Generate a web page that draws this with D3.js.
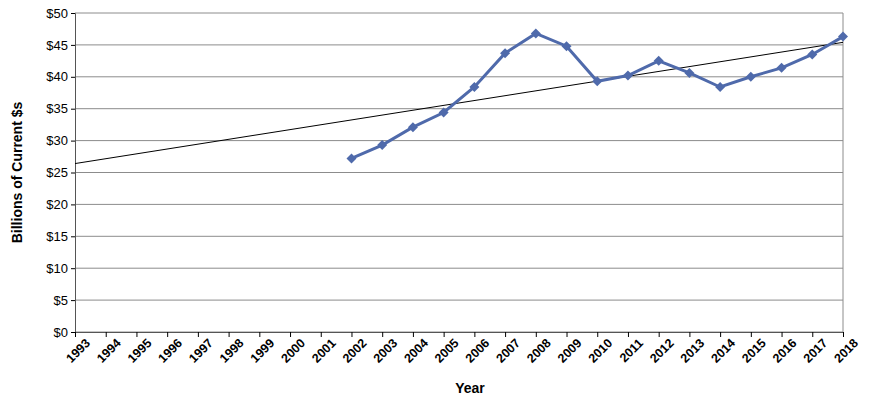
<!DOCTYPE html>
<html><head><meta charset="utf-8">
<script src="https://cdn.jsdelivr.net/npm/d3@7"></script>
<style>body{margin:0;background:#fff;font-family:"Liberation Sans",Arial,sans-serif}</style>
</head><body><svg id="c" width="870" height="414"></svg>
<script>
const years = d3.range(1993, 2019);
const seriesYears = [2002,2003,2004,2005,2006,2007,2008,2009,2010,2011,2012,2013,2014,2015,2016,2017,2018];
const seriesValues = [27.2,29.3,32.1,34.4,38.4,43.7,46.8,44.8,39.3,40.2,42.5,40.6,38.4,40.0,41.4,43.5,46.3];
const trendYears = [1993, 2018];
const trendValues = [26.4, 45.4];
const yTicks = [0,5,10,15,20,25,30,35,40,45,50];

const svg = d3.select("#c");
const m = {l:75, r:27, t:13, b:82};
const W = 870, H = 414;
const x = d3.scaleLinear().domain([1993, 2018]).range([m.l, W - m.r]);
const y = d3.scaleLinear().domain([0, 50]).range([H - m.b, m.t]);

svg.append("g").selectAll("line").data(yTicks).join("line")
  .attr("x1", m.l).attr("x2", W - m.r).attr("y1", d => y(d)).attr("y2", d => y(d))
  .attr("stroke", "#8c8c8c").attr("stroke-width", 1);

const ya = svg.append("g").attr("transform", `translate(${m.l},0)`)
  .call(d3.axisLeft(y).tickValues(yTicks).tickFormat(d => "$" + d).tickSize(4));
ya.select(".domain").attr("stroke", "#555");
ya.selectAll("text").attr("font-size", 13).attr("fill", "#000");

const xa = svg.append("g").attr("transform", `translate(0,${y(0)})`)
  .call(d3.axisBottom(x).tickValues(years).tickFormat(d3.format("d")).tickSize(5));
xa.select(".domain").attr("stroke", "#555");
xa.selectAll("text").attr("font-size", 12.5).attr("fill", "#000").attr("font-weight", "bold")
  .attr("text-anchor", "end").attr("dx", "0.2em").attr("dy", "0.9em")
  .attr("transform", "rotate(-45)");

svg.append("line").attr("x1", W - m.r).attr("x2", W - m.r).attr("y1", m.t).attr("y2", y(0)).attr("stroke", "#8c8c8c");

svg.append("path").datum(trendYears.map((d, i) => [d, trendValues[i]]))
  .attr("d", d3.line().x(d => x(d[0])).y(d => y(d[1])))
  .attr("stroke", "#000").attr("stroke-width", 1).attr("fill", "none");

const pts = seriesYears.map((d, i) => [d, seriesValues[i]]);
svg.append("path").datum(pts)
  .attr("d", d3.line().x(d => x(d[0])).y(d => y(d[1])))
  .attr("stroke", "#4f6aab").attr("stroke-width", 3).attr("fill", "none");
svg.append("g").selectAll("path").data(pts).join("path")
  .attr("d", d3.symbol(d3.symbolSquare, 50))
  .attr("transform", d => `translate(${x(d[0])},${y(d[1])}) rotate(45)`)
  .attr("fill", "#4f6aab");

svg.append("text").attr("x", 470).attr("y", 393).attr("text-anchor", "middle")
  .attr("font-weight", "bold").attr("font-size", 14).text("Year");
svg.append("text").attr("transform", `translate(22,${(m.t + y(0)) / 2}) rotate(-90)`)
  .attr("text-anchor", "middle").attr("font-weight", "bold").attr("font-size", 14).text("Billions of Current $s");
</script></body></html>
